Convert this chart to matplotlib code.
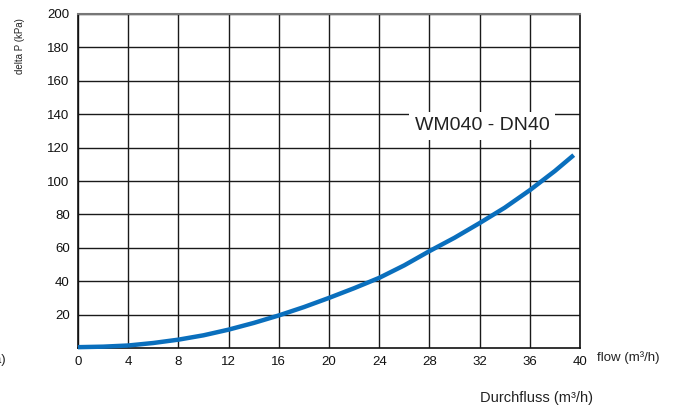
import matplotlib
matplotlib.use("Agg")
import matplotlib.pyplot as plt

plt.rcParams['font.family'] = ['Liberation Sans', 'DejaVu Sans']

# Pressure drop curve for WM040 - DN40
flow = [0, 2, 4, 6, 8, 10, 12, 14, 16, 18, 20, 22, 24, 26, 28, 30, 32, 34,
        36, 38, 39.5]
delta_p = [0.5, 0.8, 1.5, 3, 5, 7.6, 11, 15, 19.5, 24.5, 30, 35.8, 42, 49.5,
           58, 66, 74.8, 84, 94.5, 106, 115.5]

x_ticks = list(range(0, 41, 4))
y_ticks = list(range(20, 201, 20))

fig = plt.figure(figsize=(6.79, 4.09), dpi=100)
ax = fig.add_axes([78 / 679, 61 / 409, 502 / 679, 334 / 409])

ax.set_xlim(0, 40)
ax.set_ylim(0, 200)
ax.set_xticks(x_ticks)
ax.set_yticks(y_ticks)
ax.tick_params(length=0, labelsize=9.5, pad=6, colors='#111111')
ax.grid(True, color='#1a1a1a', linewidth=1.0)
ax.set_axisbelow(True)
for side in ['left', 'right', 'bottom']:
    ax.spines[side].set_color('#111111')
    ax.spines[side].set_linewidth(1.2)
ax.spines['top'].set_color('#777777')
ax.spines['top'].set_linewidth(1.5)

ax.plot(flow, delta_p, color='#0a6fbd', linewidth=3.2, solid_capstyle='butt',
        solid_joinstyle='round', clip_on=False, zorder=5)

ax.text(32.2, 133, 'WM040 - DN40', fontsize=14, ha='center', va='center',
        color='#222222', zorder=6,
        bbox=dict(facecolor='white', edgecolor='none', pad=4))

fig.text(20 / 679, 1 - 46 / 409, 'delta P (kPa)', rotation=90, fontsize=7,
         ha='center', va='center', color='#222222')
fig.text(6 / 679, 1 - 360 / 409, '(kPa)', fontsize=9.5, ha='right',
         va='center', color='#222222')
fig.text(597 / 679, 1 - 358 / 409, 'flow (m³/h)', fontsize=9.5, ha='left',
         va='center', color='#222222')
fig.text(480 / 679, 1 - 398 / 409, 'Durchfluss (m³/h)', fontsize=10.5,
         ha='left', va='center', color='#222222')

fig.savefig('out.png', dpi=100, facecolor='white')
